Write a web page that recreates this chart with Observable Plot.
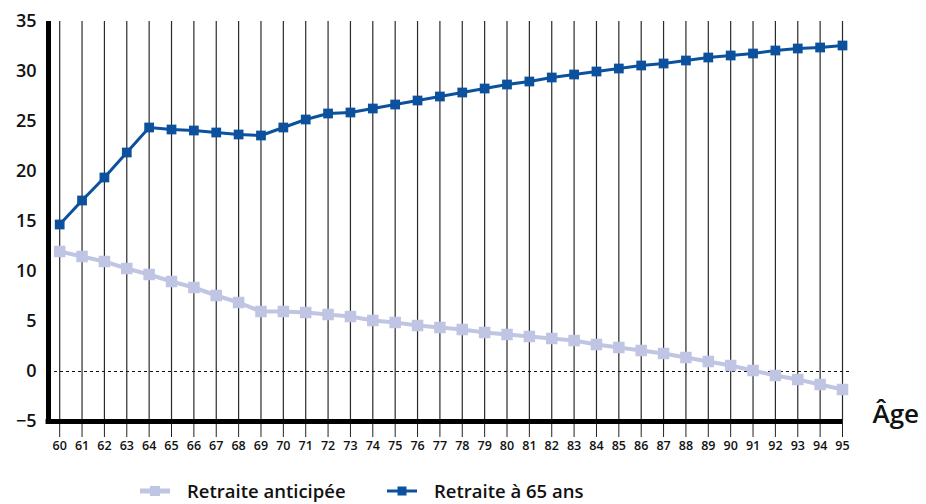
<!DOCTYPE html>
<html>
<head>
<meta charset="utf-8">
<script src="https://cdn.jsdelivr.net/npm/d3@7"></script>
<script src="https://cdn.jsdelivr.net/npm/@observablehq/plot@0.6"></script>
<style>
  body { margin: 0; background: #fff; font-family: "Open Sans", "Noto Sans", sans-serif; }
  #chart svg { display: block; overflow: visible; }
  .legend { position: relative; height: 39px; font-family: "Open Sans", sans-serif; font-weight: 600; font-size: 18.5px; line-height: 24px; color: #111; }
  .item { position: absolute; top: 14px; display: flex; align-items: center; height: 24px; }
  .item svg { margin-right: 17px; }
</style>
</head>
<body>
<div id="chart"></div>
<div class="legend" id="legend"></div>
<script>
const ages = d3.range(60, 96);
const anticipee = [12.0, 11.5, 11.0, 10.3, 9.7, 9.0, 8.4, 7.6, 6.9, 6.0, 6.0, 5.9,
  5.7, 5.5, 5.1, 4.9, 4.6, 4.4, 4.2, 3.9, 3.7, 3.5, 3.3, 3.1, 2.7, 2.4,
  2.1, 1.8, 1.4, 1.0, 0.6, 0.1, -0.4, -0.8, -1.3, -1.8];
const a65 = [14.7, 17.1, 19.4, 21.9, 24.4, 24.2, 24.1, 23.9, 23.7, 23.6, 24.4, 25.2,
  25.8, 25.9, 26.3, 26.7, 27.1, 27.5, 27.9, 28.3, 28.7, 29.0, 29.4, 29.7, 30.0, 30.3,
  30.6, 30.8, 31.1, 31.4, 31.6, 31.8, 32.1, 32.3, 32.4, 32.6];
const yTicks = [-5, 0, 5, 10, 15, 20, 25, 30, 35];
const seriesNames = ["Retraite anticipée", "Retraite à 65 ans"];
const colors = ["#c0c5e4", "#0b519d"];
const xLabel = "Âge";

const dA = ages.map((a, i) => ({age: a, v: anticipee[i]}));
const dB = ages.map((a, i) => ({age: a, v: a65[i]}));
const xMin = 59.5, xMax = 95, yMin = -5, yMax = 35;

const plot = Plot.plot({
  width: 926,
  height: 465,
  marginLeft: 48,
  marginRight: 84,
  marginTop: 21,
  marginBottom: 44,
  style: {fontFamily: "'Open Sans', sans-serif", background: "#fff", color: "#111"},
  x: {type: "linear", domain: [xMin, xMax]},
  y: {domain: [yMin, yMax]},
  marks: [
    Plot.ruleX(ages, {x: d => d, y1: yMin, y2: yMax, stroke: "#2a2a2a", strokeWidth: 1.2}),
    Plot.ruleY([0], {x1: xMin, x2: 95.45, stroke: "#111", strokeWidth: 1, strokeDasharray: "3,3"}),
    Plot.axisX({ticks: ages, tickFormat: d => String(d), tickSize: 16, tickPadding: 4,
      fontSize: 12.5, fontWeight: 600, stroke: "#222", label: null}),
    Plot.axisY({ticks: yTicks, tickSize: 0, tickPadding: 12, fontSize: 18, fontWeight: 600, label: null}),
    Plot.ruleX([xMin], {y1: yMin, y2: yMax, stroke: "#000", strokeWidth: 5}),
    Plot.ruleY([yMin], {x1: xMin - 0.11, x2: xMax, stroke: "#000", strokeWidth: 5}),
    Plot.line(dA, {x: "age", y: "v", stroke: colors[0], strokeWidth: 4}),
    Plot.dot(dA, {x: "age", y: "v", symbol: "square", r: 6.5, fill: colors[0], stroke: "none"}),
    Plot.line(dB, {x: "age", y: "v", stroke: colors[1], strokeWidth: 3}),
    Plot.dot(dB, {x: "age", y: "v", symbol: "square", r: 5.5, fill: colors[1], stroke: "none"}),
    Plot.text([xLabel], {frameAnchor: "bottom-right", text: d => d, textAnchor: "start", dx: 30, dy: 1,
      fontSize: 26, fontWeight: 600, fill: "#111"})
  ]
});
document.getElementById("chart").appendChild(plot);

const legend = document.getElementById("legend");
const lefts = [140, 387];
seriesNames.forEach((name, i) => {
  const item = document.createElement("div");
  item.className = "item";
  item.style.left = lefts[i] + "px";
  const sw = i === 0 ? 5 : 3;
  const sq = i === 0 ? 10 : 9;
  item.innerHTML = `<svg width="30" height="14"><line x1="0" x2="30" y1="7" y2="7" stroke="${colors[i]}" stroke-width="${sw}"/><rect x="${15 - sq/2}" y="${7 - sq/2}" width="${sq}" height="${sq}" fill="${colors[i]}"/></svg><span>${name}</span>`;
  legend.appendChild(item);
});
</script>
</body>
</html>
